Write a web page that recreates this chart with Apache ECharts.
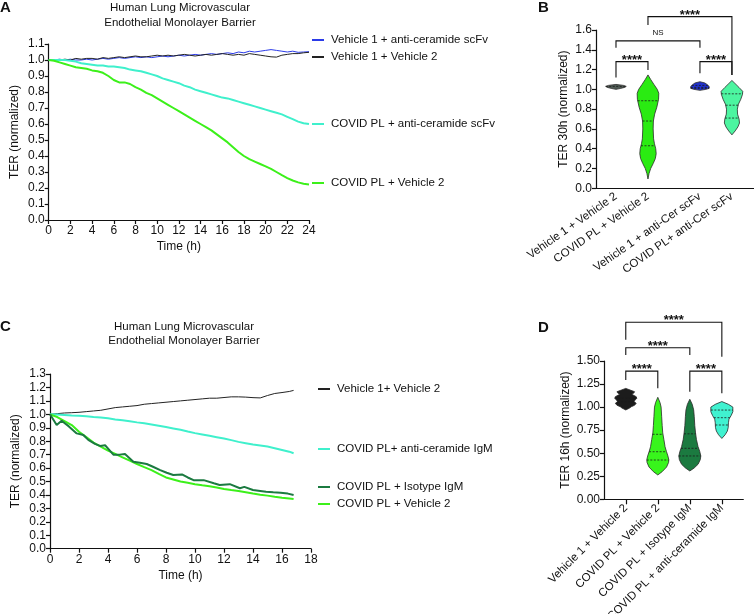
<!DOCTYPE html>
<html><head><meta charset="utf-8">
<script src="https://cdn.jsdelivr.net/npm/echarts@6/dist/echarts.min.js"></script>
<style>html,body{margin:0;padding:0;background:#fff}#c{width:754px;height:614px}</style>
</head><body><div id="c"></div>
<script>
// ---------- Panel A data ----------
const A_TIME = [0,0.5,1,1.5,2,2.5,3,3.5,4,4.5,5,5.5,6,6.5,7,7.5,8,8.5,9,9.5,10,10.5,11,11.5,12,12.5,13,13.5,14,14.5,15,15.5,16,16.5,17,17.5,18,18.5,19,19.5,20,20.5,21,21.5,22,22.5,23,23.5,24];
const A_VEH1_ANTICER = [1.0,1.0,1.005,1.0,1.005,1.0,1.0,1.005, 1.0,1.005,1.01,1.005,1.01,1.015,1.01,1.015, 1.02,1.015,1.02,1.015,1.02,1.025,1.02,1.025, 1.03,1.025,1.03,1.035,1.03,1.035,1.04,1.035, 1.04,1.045,1.04,1.05,1.045,1.055,1.05,1.055, 1.06,1.065,1.06,1.055,1.05,1.055,1.048,1.05, 1.052];
const A_VEH1_VEH2 = [1.0,0.998,1.0,1.005,1.0,1.01,1.005,1.01, 1.01,1.005,1.015,1.01,1.015,1.02,1.015,1.02, 1.025,1.02,1.02,1.025,1.03,1.025,1.03,1.025, 1.03,1.035,1.03,1.025,1.03,1.035,1.03,1.035, 1.04,1.035,1.03,1.035,1.03,1.04,1.035,1.03, 1.025,1.02,1.018,1.03,1.035,1.04,1.04,1.045, 1.048];
const A_COVID_ANTICER = [1.0,1.0,1.0,1.0,0.995,0.99,0.98,0.975,0.97,0.965,0.965,0.96,0.96,0.955,0.95,0.94,0.935,0.93,0.92,0.91,0.9,0.885,0.875,0.865,0.855,0.84,0.83,0.815,0.805,0.795,0.785,0.775,0.765,0.76,0.75,0.74,0.73,0.72,0.71,0.70,0.69,0.68,0.67,0.66,0.645,0.63,0.615,0.605,0.60];
const A_COVID_VEH2 = [1.0,0.995,0.985,0.975,0.965,0.955,0.95,0.945,0.935,0.93,0.92,0.9,0.875,0.86,0.86,0.85,0.83,0.815,0.795,0.78,0.76,0.74,0.72,0.70,0.68,0.66,0.64,0.62,0.60,0.58,0.56,0.535,0.51,0.485,0.455,0.425,0.40,0.38,0.365,0.35,0.335,0.32,0.30,0.28,0.262,0.247,0.235,0.227,0.222];
const A_NAMES = ['Vehicle 1 + anti-ceramide scFv','Vehicle 1 + Vehicle 2','COVID PL + anti-ceramide scFv','COVID PL + Vehicle 2'];

// ---------- Panel C data ----------
const C_TIME = [0,0.5,1,1.5,2,2.5,3,3.5,4,4.5,5,5.5,6,6.5,7,7.5,8,8.5,9,9.5,10,10.5,11,11.5,12,12.5,13,13.5,14,14.5,15,15.5,16,16.5,16.8];
const C_VEH1_VEH2 = [1.0,1.005,1.01,1.012,1.015,1.02,1.025,1.03,1.04,1.05,1.055,1.06,1.065,1.075,1.08,1.085,1.09,1.095,1.10,1.105,1.11,1.115,1.12,1.12,1.125,1.13,1.13,1.128,1.124,1.122,1.14,1.155,1.162,1.17,1.178];
const C_COVID_ANTICER = [1.0,0.998,0.995,0.992,0.99,0.985,0.98,0.976,0.97,0.962,0.955,0.948,0.94,0.933,0.925,0.915,0.905,0.895,0.885,0.872,0.86,0.85,0.84,0.83,0.82,0.808,0.795,0.785,0.775,0.768,0.76,0.748,0.735,0.722,0.71];
const C_COVID_VEH2 = [1.0,0.98,0.95,0.92,0.87,0.83,0.79,0.76,0.73,0.705,0.68,0.655,0.63,0.607,0.585,0.557,0.53,0.515,0.50,0.49,0.48,0.472,0.465,0.455,0.445,0.437,0.43,0.42,0.41,0.402,0.395,0.387,0.38,0.374,0.37];
const C_ISO_TIME = [0,0.46,0.8,1.3,1.84,2.3,2.64,3.1,3.45,3.8,4.37,4.8,5.17,5.75,6.2,6.67,7.1,7.6,8.05,8.5,9.1,9.5,9.9,10.6,11.3,11.7,12.4,13.1,13.4,14.0,14.5,14.9,15.4,15.9,16.4,16.8];
const C_COVID_ISO = [1.0,0.92,0.952,0.91,0.858,0.846,0.81,0.78,0.765,0.77,0.70,0.70,0.705,0.647,0.64,0.63,0.61,0.585,0.565,0.548,0.553,0.53,0.51,0.51,0.487,0.474,0.48,0.45,0.46,0.437,0.43,0.424,0.42,0.417,0.41,0.40];
const C_NAMES = ['Vehicle 1+ Vehicle 2','COVID PL+ anti-ceramide IgM','COVID PL + Isotype IgM','COVID PL + Vehicle 2'];

// ---------- Panel B data (violins: [value, relative density]) ----------
const B_CATEGORIES = ['Vehicle 1 + Vehicle 2','COVID PL + Vehicle 2','Vehicle 1 + anti-Cer scFv','COVID PL+ anti-Cer scFv'];
const B_PROFILES = [
  [[1.0,0],[1.01,0.45],[1.02,0.8],[1.03,0.95],[1.04,0.7],[1.05,0]],
  [[0.094,0],[0.15,0.1],[0.2,0.25],[0.25,0.48],[0.3,0.68],[0.35,0.76],[0.4,0.72],[0.45,0.6],[0.5,0.52],[0.6,0.48],[0.68,0.5],[0.75,0.62],[0.82,0.82],[0.9,0.98],[0.96,1.0],[1.0,0.86],[1.05,0.55],[1.1,0.25],[1.146,0]],
  [[0.99,0],[1.0,0.55],[1.01,0.85],[1.03,0.85],[1.05,0.65],[1.065,0.45],[1.077,0]],
  [[0.54,0],[0.58,0.3],[0.62,0.55],[0.66,0.7],[0.7,0.66],[0.75,0.52],[0.8,0.5],[0.85,0.6],[0.9,0.82],[0.95,0.98],[0.98,1.0],[1.02,0.65],[1.06,0.28],[1.09,0]]
];
const B_QUARTILES = [[1.03],[0.43,0.68,0.885],[1.01,1.02,1.04],[0.71,0.84,0.955]];
// brackets: [from category, to category, bar value, left leg end, right leg end, label]
const B_BRACKETS = [
  [0,1,1.28,1.12,1.196,'****'],
  [0,2,1.49,1.42,1.42,'NS'],
  [2,3,1.28,1.163,1.146,'****'],
  [1,3,1.735,1.65,1.146,'****']
];

// ---------- Panel D data ----------
const D_CATEGORIES = ['Vehicle 1 + Vehicle 2','COVID PL + Vehicle 2','COVID PL + Isotype IgM','COVID PL + anti-ceramide IgM'];
const D_PROFILES = [
  [[0.969,0],[0.99,0.35],[1.004,0.5],[1.02,0.8],[1.041,0.95],[1.06,0.75],[1.077,0.85],[1.095,1.0],[1.113,0.95],[1.139,0.55],[1.155,0.75],[1.167,0.8],[1.185,0.4],[1.203,0]],
  [[0.264,0],[0.3,0.4],[0.35,0.8],[0.4,0.98],[0.43,1.0],[0.47,0.92],[0.52,0.78],[0.57,0.66],[0.65,0.55],[0.72,0.45],[0.8,0.4],[0.9,0.35],[1.0,0.3],[1.05,0.2],[1.106,0]],
  [[0.307,0],[0.34,0.4],[0.38,0.75],[0.43,0.95],[0.47,1.0],[0.52,0.9],[0.57,0.75],[0.65,0.6],[0.72,0.52],[0.8,0.45],[0.9,0.4],[0.97,0.35],[1.03,0.22],[1.085,0]],
  [[0.66,0],[0.7,0.3],[0.74,0.5],[0.78,0.58],[0.83,0.6],[0.87,0.65],[0.91,0.85],[0.95,1.0],[1.0,1.0],[1.03,0.6],[1.06,0]]
];
const D_QUARTILES = [[1.06,1.1],[0.426,0.516,0.705],[0.47,0.553,0.71],[0.806,0.885,0.968]];
const D_BRACKETS = [
  [0,1,1.39,1.294,1.204,'****'],
  [0,2,1.644,1.565,1.565,'****'],
  [2,3,1.39,1.167,1.15,'****'],
  [0,3,1.92,1.73,1.547,'****']
];

// ---------- layout / style ----------
const FONT = '"Liberation Sans", Arial, Helvetica, sans-serif';
const B_POS = [0.625,1.625,3.25,4.25];
const D_POS = [0.68,1.68,2.68,3.68];
const B_COLORS = ['#4f5b54','#2aeb12','#2233cc','#4cf5a0'];
const D_COLORS = ['#1c1c1c','#38f51c','#1b7a40','#40f2d0'];
const COL = {blue:'#2b3be8', black:'#222222', cyan:'#3ff0cc', green:'#3cf01a', dark:'#1b7a40'};

const pairs = (t, v) => t.map((x, i) => [x, v[i]]);

function interp(prof, v) {
  for (let k = 0; k < prof.length - 1; k++) {
    const a = prof[k], b = prof[k + 1];
    if (v >= a[0] && v <= b[0]) return a[1] + (b[1] - a[1]) * (v - a[0]) / (b[0] - a[0]);
  }
  return 0;
}

function violinSeries(xi, pos, profiles, quarts, colors, maxHalf) {
  return {
    type: 'custom', xAxisIndex: xi, yAxisIndex: xi, silent: true,
    data: pos.map((p, i) => [p, quarts[i][0], i]),
    encode: {x: 0, y: 1},
    renderItem: function (params, api) {
      const i = api.value(2), x = api.value(0);
      const prof = profiles[i];
      const right = [], left = [];
      prof.forEach(([v, d]) => {
        const c = api.coord([x, v]);
        right.push([c[0] + d * maxHalf, c[1]]);
        left.push([c[0] - d * maxHalf, c[1]]);
      });
      const pts = right.concat(left.reverse());
      const children = [{type: 'polygon', shape: {points: pts}, style: {fill: colors[i], stroke: '#2a2a2a', lineWidth: 0.8}}];
      quarts[i].forEach(q => {
        const d = interp(prof, q) * maxHalf;
        const c = api.coord([x, q]);
        children.push({type: 'line', shape: {x1: c[0] - d, y1: c[1], x2: c[0] + d, y2: c[1]},
          style: {stroke: '#1a1a1a', lineWidth: 0.8, lineDash: [2, 1.5]}});
      });
      return {type: 'group', children};
    }
  };
}

function bracketSeries(xi, pos, brackets) {
  return {
    type: 'custom', xAxisIndex: xi, yAxisIndex: xi, silent: true, clip: false, z: 5,
    data: brackets.map((b, i) => [pos[b[0]], b[2], i]),
    encode: {x: 0, y: 1},
    renderItem: function (params, api) {
      const b = brackets[api.value(2)];
      const x1 = pos[b[0]], x2 = pos[b[1]];
      const p1 = api.coord([x1, b[3]]), p2 = api.coord([x1, b[2]]), p3 = api.coord([x2, b[2]]), p4 = api.coord([x2, b[4]]);
      const isNS = b[5] === 'NS';
      return {type: 'group', children: [
        {type: 'polyline', shape: {points: [p1, p2, p3, p4]}, style: {stroke: '#111', lineWidth: 1.1, fill: null}},
        {type: 'text', x: (p2[0] + p3[0]) / 2, y: p2[1] - (isNS ? 8.5 : 1.5),
          style: {text: b[5], align: 'center', verticalAlign: 'middle', fill: '#111',
            font: (isNS ? 'normal 8px ' : 'bold 13px ') + FONT}}
      ]};
    }
  };
}

function lineSeries(name, xi, data, color, width) {
  return {type: 'line', name, xAxisIndex: xi, yAxisIndex: xi, data, symbol: 'none', showSymbol: false,
    lineStyle: {color, width}, itemStyle: {color}, emphasis: {disabled: true}};
}

const axisLineStyle = {show: true, lineStyle: {color: '#111', width: 1.2}};
const tickStyle = {show: true, inside: false, length: 4, lineStyle: {color: '#111', width: 1.2}};
const labelStyle = {color: '#111', fontSize: 12, fontFamily: FONT, margin: 4};
const nameStyle = {color: '#111', fontSize: 12, fontFamily: FONT};

function yAxis(gi, min, max, interval, name, gap, digits) {
  return {type: 'value', gridIndex: gi, min, max, interval, name, nameLocation: 'middle', nameGap: gap,
    nameTextStyle: nameStyle, axisLine: axisLineStyle, axisTick: tickStyle, splitLine: {show: false},
    axisLabel: Object.assign({}, labelStyle, {formatter: v => v.toFixed(digits)})};
}
function xTimeAxis(gi, max) {
  return {type: 'value', gridIndex: gi, min: 0, max, interval: 2, name: 'Time (h)', nameLocation: 'middle', nameGap: 21,
    nameTextStyle: nameStyle, axisLine: axisLineStyle, axisTick: tickStyle, splitLine: {show: false},
    axisLabel: Object.assign({}, labelStyle, {margin: 5})};
}
function xCatAxis(gi, max, pos, cats, rot, ticks) {
  return {type: 'value', gridIndex: gi, min: 0, max, axisLine: axisLineStyle, splitLine: {show: false},
    axisTick: ticks ? {show: true, length: 5, customValues: pos, lineStyle: {color: '#111', width: 1.2}} : {show: false},
    axisLabel: {show: true, customValues: pos, rotate: rot, color: '#111', fontSize: 11.5, fontFamily: FONT, margin: 7,
      formatter: v => { const i = pos.findIndex(p => Math.abs(p - v) < 1e-6); return i >= 0 ? cats[i] : ''; }}};
}

function legendAt(name, left, yCenter) {
  return {data: [name], left, top: yCenter - 7, padding: 0, itemGap: 0, itemWidth: 12, itemHeight: 2, icon: 'rect',
    selectedMode: false, textStyle: {fontSize: 11.5, color: '#111', fontFamily: FONT, padding: [0, 0, 0, 2]}};
}

const titleText = 'Human Lung Microvascular\nEndothelial Monolayer Barrier';
const letter = (t, l, tp) => ({text: t, left: l, top: tp, padding: 0, textStyle: {fontSize: 15, fontWeight: 'bold', color: '#111', fontFamily: FONT}});

const option = {
  animation: false,
  textStyle: {fontFamily: FONT},
  title: [
    {text: titleText, left: 180, top: 0, padding: 0, textAlign: 'center', textStyle: {fontSize: 11.5, fontWeight: 'normal', lineHeight: 15, color: '#111', fontFamily: FONT}},
    {text: titleText, left: 184, top: 320, padding: 0, textAlign: 'center', textStyle: {fontSize: 11.5, fontWeight: 'normal', lineHeight: 14, color: '#111', fontFamily: FONT}},
    letter('A', 0, 0), letter('B', 538, 0), letter('C', 0, 319), letter('D', 538, 320)
  ],
  legend: [
    legendAt(A_NAMES[0], 312, 41), legendAt(A_NAMES[1], 312, 58), legendAt(A_NAMES[2], 312, 125), legendAt(A_NAMES[3], 312, 184),
    legendAt(C_NAMES[0], 318, 390), legendAt(C_NAMES[1], 318, 450), legendAt(C_NAMES[2], 318, 488), legendAt(C_NAMES[3], 318, 505)
  ],
  grid: [
    {left: 48.7, top: 44, width: 260.3, height: 176, containLabel: false, outerBoundsMode: 'none'},
    {left: 596, top: 30, width: 158, height: 158.3, containLabel: false, outerBoundsMode: 'none'},
    {left: 50, top: 374, width: 261, height: 174.7, containLabel: false, outerBoundsMode: 'none'},
    {left: 604, top: 361, width: 139.3, height: 138.3, containLabel: false, outerBoundsMode: 'none'}
  ],
  xAxis: [
    xTimeAxis(0, 24),
    xCatAxis(1, 4.94, B_POS, B_CATEGORIES, 35, false),
    xTimeAxis(2, 18),
    xCatAxis(3, 4.35, D_POS, D_CATEGORIES, 45, true)
  ],
  yAxis: [
    yAxis(0, 0, 1.1, 0.1, 'TER (normalized)', 28, 1),
    yAxis(1, 0, 1.6, 0.2, 'TER 30h (normalized)', 26, 1),
    yAxis(2, 0, 1.3, 0.1, 'TER (normalized)', 28, 1),
    yAxis(3, 0, 1.5, 0.25, 'TER 16h (normalized)', 32, 2)
  ],
  series: [
    lineSeries(A_NAMES[0], 0, pairs(A_TIME, A_VEH1_ANTICER), COL.blue, 1),
    lineSeries(A_NAMES[1], 0, pairs(A_TIME, A_VEH1_VEH2), COL.black, 1),
    lineSeries(A_NAMES[2], 0, pairs(A_TIME, A_COVID_ANTICER), COL.cyan, 2),
    lineSeries(A_NAMES[3], 0, pairs(A_TIME, A_COVID_VEH2), COL.green, 2),
    lineSeries(C_NAMES[0], 2, pairs(C_TIME, C_VEH1_VEH2), COL.black, 1),
    lineSeries(C_NAMES[1], 2, pairs(C_TIME, C_COVID_ANTICER), COL.cyan, 2),
    lineSeries(C_NAMES[3], 2, pairs(C_TIME, C_COVID_VEH2), COL.green, 2),
    lineSeries(C_NAMES[2], 2, pairs(C_ISO_TIME, C_COVID_ISO), COL.dark, 2),
    violinSeries(1, B_POS, B_PROFILES, B_QUARTILES, B_COLORS, 10.8),
    bracketSeries(1, B_POS, B_BRACKETS),
    violinSeries(3, D_POS, D_PROFILES, D_QUARTILES, D_COLORS, 11),
    bracketSeries(3, D_POS, D_BRACKETS)
  ]
};

const chart = echarts.init(document.getElementById('c'), null, {renderer: 'canvas'});
chart.setOption(option);
</script></body></html>
